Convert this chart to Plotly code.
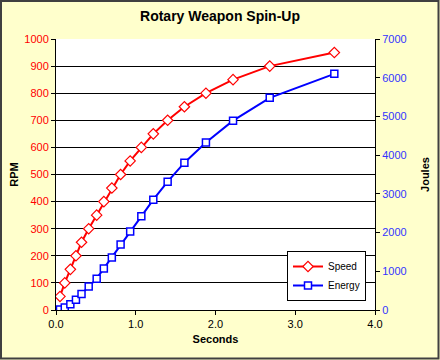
import plotly.graph_objects as go

seconds = [0.05, 0.11, 0.18, 0.25, 0.32, 0.41, 0.51, 0.60, 0.70, 0.81,
           0.93, 1.07, 1.22, 1.40, 1.61, 1.88, 2.22, 2.68, 3.49]
speed_rpm = [50, 100, 150, 200, 250, 300, 350, 400, 450, 500,
             550, 600, 650, 700, 750, 800, 850, 900, 950]
energy_j = [15, 65, 150, 265, 415, 605, 810, 1075, 1355, 1690,
            2030, 2420, 2850, 3315, 3805, 4325, 4890, 5480, 6100]

x_ticks = [0, 1, 2, 3, 4]
x_tick_labels = ["0.0", "1.0", "2.0", "3.0", "4.0"]
rpm_ticks = list(range(0, 1001, 100))
joule_ticks = list(range(0, 7001, 1000))

FONT = "Liberation Sans, Arial, sans-serif"
W, H = 440, 360
L, R, T, B = 56, 65, 39, 50
PW, PH = W - L - R, H - T - B

fig = go.Figure()
fig.add_trace(go.Scatter(
    x=seconds, y=speed_rpm, name="Speed", mode="lines+markers",
    line=dict(color="#FF0000", width=2),
    marker=dict(symbol="diamond", size=8, color="white",
                line=dict(color="#FF0000", width=1.2)),
    yaxis="y",
))
fig.add_trace(go.Scatter(
    x=seconds, y=energy_j, name="Energy", mode="lines+markers",
    line=dict(color="#0000FF", width=2),
    marker=dict(symbol="square", size=7, color="white",
                line=dict(color="#0000FF", width=1.5)),
    yaxis="y2",
))

fig.update_layout(
    width=W, height=H,
    margin=dict(l=L, r=R, t=T, b=B, autoexpand=False),
    paper_bgcolor="#FFFFCC",
    plot_bgcolor="white",
    font=dict(family=FONT, size=11, color="black"),
    title=dict(text="<b>Rotary Weapon Spin-Up</b>", x=0.5, xanchor="center",
               y=1 - 16 / H, yanchor="middle",
               font=dict(size=14, family=FONT, color="black")),
    xaxis=dict(
        range=[0, 4], tickvals=x_ticks, ticktext=x_tick_labels,
        showgrid=False, zeroline=False, automargin=False,
        showline=True, linecolor="black", linewidth=1,
        ticks="outside", ticklen=4, tickcolor="black",
        tickfont=dict(size=11, color="black"),
        title=dict(text="<b>Seconds</b>", font=dict(size=11), standoff=6),
    ),
    yaxis=dict(
        range=[0, 1000], tickvals=rpm_ticks, automargin=False,
        showgrid=True, gridcolor="black", gridwidth=1,
        zeroline=False, showline=True, linecolor="black", linewidth=1,
        ticks="outside", ticklen=4, tickcolor="black",
        tickfont=dict(size=11, color="#FF0000"),
        title=dict(text="<b>RPM</b>", font=dict(size=11), standoff=3),
    ),
    yaxis2=dict(
        range=[0, 7000], tickvals=joule_ticks, overlaying="y", side="right",
        showgrid=False, zeroline=False, automargin=False,
        showline=True, linecolor="black", linewidth=1,
        ticks="outside", ticklen=4, tickcolor="black",
        tickfont=dict(size=11, color="#3333FF"),
        title=dict(text="<b>Joules</b>", font=dict(size=11), standoff=15),
    ),
    legend=dict(
        x=(287 - L) / PW, y=(H - B - 251) / PH,
        xanchor="left", yanchor="top",
        bgcolor="white", bordercolor="black", borderwidth=1,
        font=dict(size=10, color="black"),
        tracegroupgap=0, itemwidth=30,
    ),
    showlegend=True,
)

fig.add_shape(type="rect", xref="paper", yref="paper",
              x0=-(L - 1) / PW, x1=1 + (R - 1.5) / PW,
              y0=-(B - 1.5) / PH, y1=1 + (T - 1) / PH,
              line=dict(color="#404040", width=2), fillcolor="rgba(0,0,0,0)")

fig.write_html(
    "out.html",
    config={"displayModeBar": False},
    post_script="document.body.style.margin='0';document.body.style.padding='0';"
                "document.body.style.background='#FFFFCC';",
)
